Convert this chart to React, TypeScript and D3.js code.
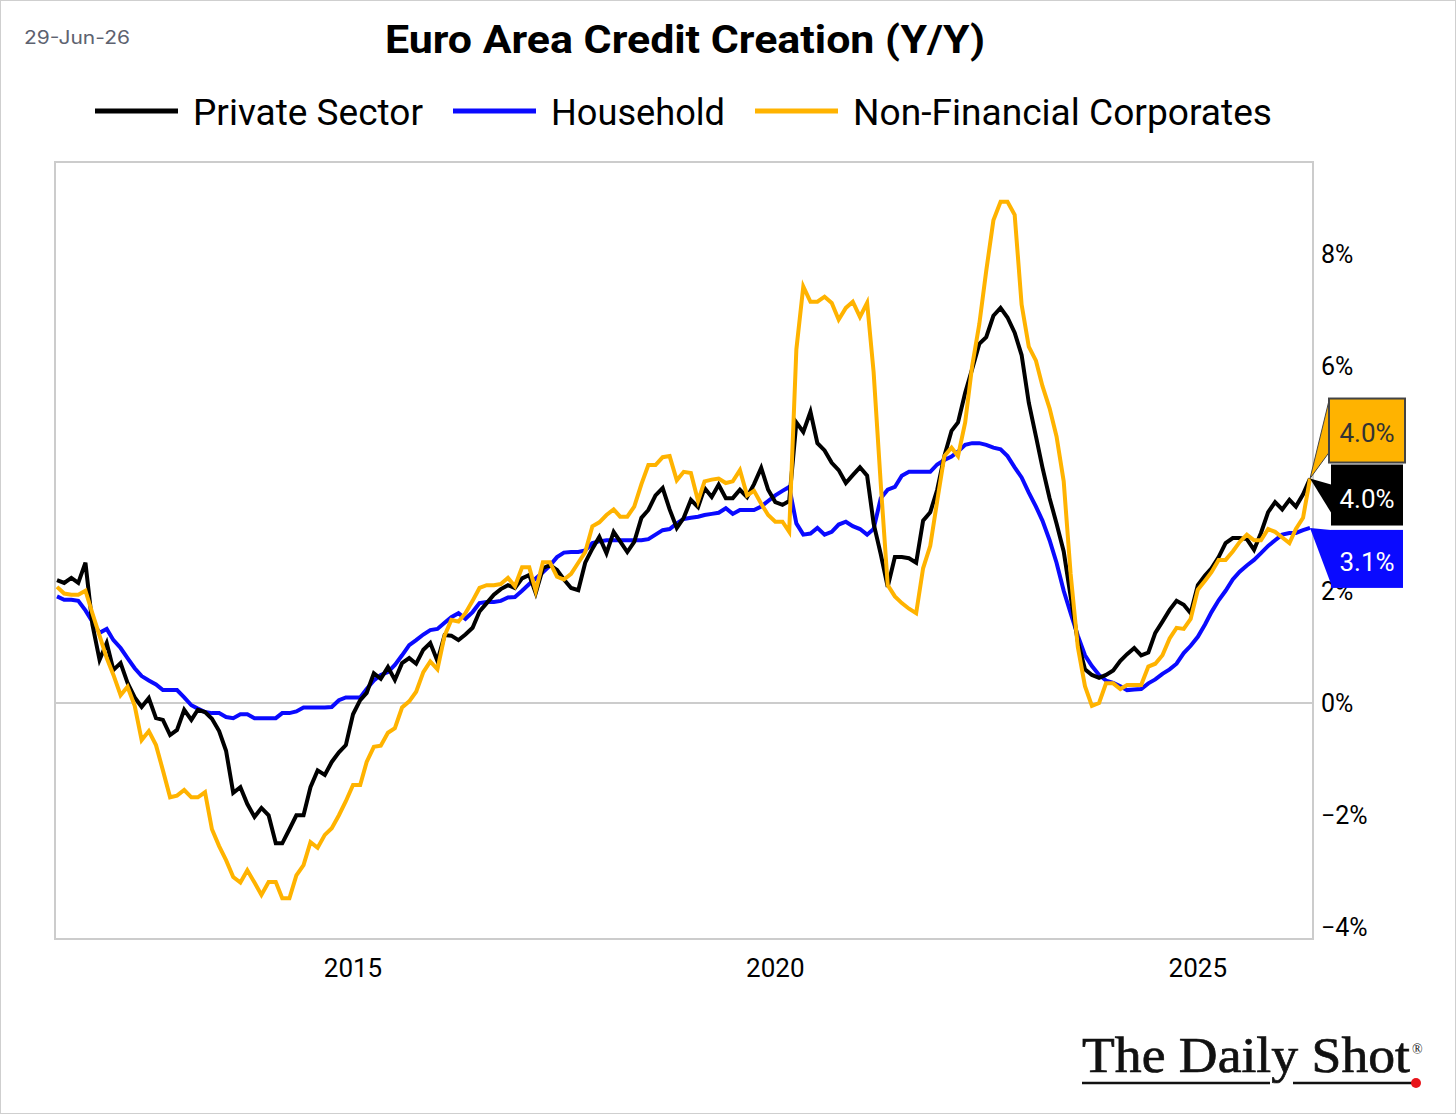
import React from "react";
import * as d3 from "d3";

const START = new Date(2011, 6, 1); // Jul 2011, monthly

const privateSector: number[] = [
  2.19, 2.14, 2.23, 2.14, 2.5, 1.4,
  0.77, 1.07, 0.59, 0.71, 0.36, 0.1, -0.07, 0.09, -0.27, -0.3, -0.57, -0.48,
  -0.12, -0.3, -0.12, -0.16, -0.28, -0.5, -0.85, -1.6, -1.5, -1.8, -2.03, -1.87,
  -2.0, -2.5, -2.5, -2.25, -2.0, -2.0, -1.5, -1.2, -1.28, -1.05, -0.88, -0.75,
  -0.2, 0.05, 0.18, 0.53, 0.43, 0.64, 0.41, 0.71, 0.8, 0.7, 0.95, 1.07,
  0.75, 1.21, 1.2, 1.12, 1.22, 1.34, 1.63, 1.78, 1.93, 2.03, 2.1, 2.05,
  2.22, 2.28, 1.96, 2.4, 2.46, 2.37, 2.2, 2.05, 2.01, 2.5, 2.75, 2.96,
  2.67, 3.05, 2.88, 2.69, 2.87, 3.3, 3.44, 3.7, 3.83, 3.45, 3.12, 3.3,
  3.62, 3.49, 3.83, 3.67, 3.89, 3.65, 3.65, 3.8, 3.67, 3.9, 4.19, 3.8,
  3.58, 3.53, 3.6, 5.0, 4.83, 5.19, 4.63, 4.5, 4.28, 4.15, 3.92, 4.06,
  4.2, 4.05, 3.2, 2.65, 2.07, 2.6, 2.6, 2.58, 2.5, 3.25, 3.4, 3.8,
  4.4, 4.85, 5.0, 5.53, 5.95, 6.4, 6.52, 6.9, 7.04, 6.87, 6.6, 6.2,
  5.35, 4.75, 4.2, 3.65, 3.2, 2.7, 1.9, 1.1, 0.6, 0.5, 0.45, 0.5,
  0.58, 0.75, 0.87, 0.98, 0.85, 0.9, 1.25, 1.45, 1.66, 1.82, 1.75, 1.6,
  2.1, 2.27, 2.4, 2.6, 2.85, 2.94, 2.94, 2.92, 2.73, 3.03, 3.4, 3.58,
  3.45, 3.62, 3.5, 3.72, 4.0,
];

const household: number[] = [
  1.9, 1.84, 1.84, 1.82, 1.65, 1.45,
  1.25, 1.32, 1.12, 0.98, 0.8, 0.62, 0.48, 0.4, 0.33, 0.23, 0.23, 0.23,
  0.1, -0.04, -0.1, -0.16, -0.18, -0.18, -0.25, -0.27, -0.2, -0.2, -0.27, -0.27,
  -0.27, -0.27, -0.18, -0.18, -0.15, -0.08, -0.08, -0.08, -0.08, -0.07, 0.05, 0.1,
  0.1, 0.1, 0.25, 0.4, 0.5, 0.55, 0.68, 0.85, 1.03, 1.12, 1.22, 1.3,
  1.32, 1.43, 1.53, 1.6, 1.5, 1.62, 1.78, 1.8, 1.8, 1.82, 1.88, 1.89,
  2.0, 2.12, 2.22, 2.33, 2.45, 2.6, 2.68, 2.69, 2.69, 2.72, 2.85, 2.88,
  2.9, 2.9, 2.9, 2.9, 2.9, 2.9, 2.92, 3.0, 3.08, 3.1, 3.2, 3.28,
  3.3, 3.32, 3.35, 3.37, 3.39, 3.47, 3.37, 3.44, 3.44, 3.44, 3.5, 3.6,
  3.7, 3.78, 3.85, 3.2, 3.0, 3.02, 3.12, 3.0, 3.05, 3.18, 3.23, 3.15,
  3.1, 3.0, 3.1, 3.65, 3.8, 3.85, 4.05, 4.12, 4.12, 4.12, 4.12, 4.25,
  4.33, 4.39, 4.48, 4.6, 4.63, 4.63, 4.6, 4.55, 4.52, 4.4, 4.2, 4.02,
  3.75, 3.5, 3.25, 2.9, 2.5, 2.0, 1.6, 1.2, 0.85, 0.66, 0.5, 0.4,
  0.36, 0.3, 0.23, 0.24, 0.25, 0.35, 0.42, 0.52, 0.6, 0.7, 0.89, 1.02,
  1.18, 1.4, 1.62, 1.83, 2.0, 2.2, 2.34, 2.45, 2.55, 2.67, 2.8, 2.9,
  3.0, 3.03, 3.03, 3.08, 3.12,
];

const nonFinancialCorporates: number[] = [
  2.07, 1.95, 1.93, 1.93, 2.0, 1.6,
  1.2, 0.8, 0.5, 0.14, 0.29, -0.05, -0.66, -0.5, -0.75, -1.2, -1.68, -1.65,
  -1.55, -1.68, -1.68, -1.59, -2.25, -2.55, -2.8, -3.1, -3.2, -2.98, -3.2, -3.42,
  -3.19, -3.19, -3.48, -3.48, -3.07, -2.89, -2.48, -2.58, -2.35, -2.23, -2.0, -1.75,
  -1.46, -1.46, -1.05, -0.78, -0.76, -0.53, -0.45, -0.08, 0.03, 0.2, 0.55, 0.74,
  0.6, 1.2, 1.48, 1.45, 1.6, 1.82, 2.05, 2.1, 2.1, 2.12, 2.23, 2.08,
  2.42, 2.42, 2.0, 2.51, 2.51, 2.25, 2.2, 2.3, 2.5, 2.69, 3.15, 3.22,
  3.35, 3.45, 3.32, 3.32, 3.5, 3.9, 4.24, 4.24, 4.38, 4.4, 3.97, 4.12,
  4.1, 3.6, 3.95, 3.98, 4.0, 3.92, 3.95, 4.15, 3.7, 3.78, 3.55, 3.35,
  3.23, 3.23, 3.05, 6.3, 7.42, 7.15, 7.15, 7.24, 7.13, 6.83, 7.04, 7.15,
  6.88, 7.13, 5.9, 3.9, 2.1, 1.9, 1.78, 1.68, 1.6, 2.4, 2.8, 3.6,
  4.4, 4.55, 4.4, 5.0, 6.0, 6.75, 7.7, 8.6, 8.93, 8.93, 8.7, 7.1,
  6.35, 6.1, 5.65, 5.25, 4.75, 3.95, 2.3, 1.0, 0.3, -0.05, 0.0, 0.35,
  0.35, 0.25, 0.32, 0.32, 0.32, 0.65, 0.7, 0.85, 1.15, 1.34, 1.32, 1.5,
  2.02, 2.18, 2.33, 2.55, 2.55, 2.7, 2.87, 3.0, 2.9, 2.9, 3.1, 3.05,
  2.95, 2.85, 3.1, 3.3, 4.0,
];

const yTicks: number[] = [-4, -2, 0, 2, 4, 6, 8];
const xTickYears: number[] = [2015, 2020, 2025];

const seriesNames = ["Private Sector", "Household", "Non-Financial Corporates"];
const seriesColors = ["#000000", "#0a0aff", "#ffb300"];

const W = 1456;
const H = 1114;
const plot = { left: 55, right: 1313, top: 162, bottom: 939 };

function dateAt(i: number) {
  return d3.timeMonth.offset(START, i);
}

export default function App() {
  const n = privateSector.length;
  const x = d3
    .scaleTime()
    .domain([START, dateAt(n - 1)])
    .range([57, 1310]);
  const y = d3.scaleLinear().domain([-4.205, 9.64]).range([plot.bottom, plot.top]);

  const line = d3
    .line<number>()
    .x((_, i) => x(dateAt(i)))
    .y((v) => y(v))
    .curve(d3.curveLinear);

  const fmtTick = (v: number) => (v < 0 ? "\u2212" + Math.abs(v) : String(v)) + "%";

  const lastX = x(dateAt(n - 1));
  const lastP = y(privateSector[n - 1]);
  const lastH = y(household[n - 1]);
  const lastN = y(nonFinancialCorporates[n - 1]);

  const labelFont = "Roboto, 'Noto Sans', sans-serif";

  // value label boxes
  const bx = 1331;
  const bw = 72;
  const boxN = { y0: lastN - 80, y1: lastN - 16 };
  const boxP = { y0: lastP - 14, y1: lastP + 47 };
  const boxH = { y0: lastH + 2, y1: lastH + 60 };

  // tick labels hidden entirely behind the end-value boxes are not drawn (as in the reference)
  const hidden = (t: number) => {
    const ty = y(t);
    return ty > boxN.y0 && ty < boxP.y1;
  };

  return (
    <svg width={W} height={H} style={{ display: "block", position: "absolute", left: 0, top: 0 }}>
      <rect x={0} y={0} width={W} height={H} fill="#fff" />
      <rect x={0.5} y={0.5} width={W - 1} height={H - 1} fill="none" stroke="#cfcfcf" />

      <text
        x={24}
        y={44}
        fontFamily="Inter, 'DejaVu Sans', sans-serif"
        fontSize={18}
        fill="#5d6270"
        textLength={106}
        lengthAdjust="spacingAndGlyphs"
      >
        29-Jun-26
      </text>
      <text
        x={685}
        y={53}
        textAnchor="middle"
        fontFamily={labelFont}
        fontWeight={700}
        fontSize={38}
        fill="#000"
        textLength={600}
        lengthAdjust="spacingAndGlyphs"
      >
        Euro Area Credit Creation (Y/Y)
      </text>

      {/* legend */}
      {[
        { x0: 95, tx: 193, tw: 230 },
        { x0: 453, tx: 551, tw: 174 },
        { x0: 755, tx: 853, tw: 419 },
      ].map((l, i) => (
        <g key={i}>
          <line x1={l.x0} x2={l.x0 + 83} y1={111} y2={111} stroke={seriesColors[i]} strokeWidth={5} />
          <text
            x={l.tx}
            y={125}
            fontFamily={labelFont}
            fontSize={37}
            fill="#000"
            textLength={l.tw}
            lengthAdjust="spacingAndGlyphs"
          >
            {seriesNames[i]}
          </text>
        </g>
      ))}

      {/* plot frame */}
      <rect
        x={plot.left}
        y={plot.top}
        width={plot.right - plot.left}
        height={plot.bottom - plot.top}
        fill="none"
        stroke="#cccccc"
        strokeWidth={2}
      />
      <line x1={plot.left} x2={plot.right} y1={y(0)} y2={y(0)} stroke="#cccccc" strokeWidth={2} />

      {/* y tick labels */}
      {yTicks
        .filter((t) => !hidden(t))
        .map((t) => (
          <text key={t} x={1321} y={y(t) + 9} fontFamily={labelFont} fontSize={25} fill="#000">
            {fmtTick(t)}
          </text>
        ))}

      {/* x tick labels */}
      {xTickYears.map((yr) => (
        <text
          key={yr}
          x={x(new Date(yr, 0, 1))}
          y={977}
          textAnchor="middle"
          fontFamily={labelFont}
          fontSize={26}
          fill="#000"
        >
          {yr}
        </text>
      ))}

      {/* series */}
      <g fill="none" strokeLinejoin="miter" strokeWidth={4}>
        <path d={line(household) || ""} stroke={seriesColors[1]} />
        <path d={line(privateSector) || ""} stroke={seriesColors[0]} />
        <path d={line(nonFinancialCorporates) || ""} stroke={seriesColors[2]} />
      </g>

      {/* end value labels */}
      <g fontFamily={labelFont} fontSize={26} textAnchor="middle">
        <path
          d={`M${lastX},${lastN} L${bx - 2},${boxN.y0 + 2} L${bx - 2},${boxN.y1 - 10} Z`}
          fill={seriesColors[2]}
          stroke="#444"
          strokeWidth={1}
        />
        <rect x={bx - 2} y={boxN.y0} width={bw + 4} height={boxN.y1 - boxN.y0} fill={seriesColors[2]} stroke="#444" strokeWidth={2} />
        <text x={bx + bw / 2} y={boxN.y0 + 43} fill="#333">
          {nonFinancialCorporates[n - 1].toFixed(1)}%
        </text>

        <path d={`M${lastX},${lastP} L${bx},${lastP + 6} L${bx},${lastP + 34} Z`} fill="#000" />
        <rect x={bx} y={boxP.y0} width={bw} height={boxP.y1 - boxP.y0} fill="#000" />
        <text x={bx + bw / 2} y={boxP.y0 + 43} fill="#fff">
          {privateSector[n - 1].toFixed(1)}%
        </text>

        <path d={`M${lastX},${lastH} L${bx},${lastH + 2} L${bx},${lastH + 56} Z`} fill={seriesColors[1]} />
        <rect x={bx} y={boxH.y0} width={bw} height={boxH.y1 - boxH.y0} fill={seriesColors[1]} />
        <text x={bx + bw / 2} y={boxH.y0 + 41} fill="#fff">
          {household[n - 1].toFixed(1)}%
        </text>
      </g>

      {/* logo */}
      <g>
        <text
          x={1082}
          y={1072}
          fontFamily="'Liberation Serif', 'DejaVu Serif', serif"
          fontSize={50}
          fill="#111"
          stroke="#111"
          strokeWidth={0.7}
          textLength={328}
          lengthAdjust="spacingAndGlyphs"
        >
          The Daily Shot
        </text>
        <text x={1412} y={1054} fontFamily="'Liberation Serif', serif" fontSize={14} fill="#111">
          ®
        </text>
        <line x1={1082} x2={1270} y1={1083} y2={1083} stroke="#111" strokeWidth={2.5} />
        <line x1={1293} x2={1412} y1={1083} y2={1083} stroke="#111" strokeWidth={2.5} />
        <circle cx={1416} cy={1083} r={5} fill="#e8151b" />
      </g>
    </svg>
  );
}
